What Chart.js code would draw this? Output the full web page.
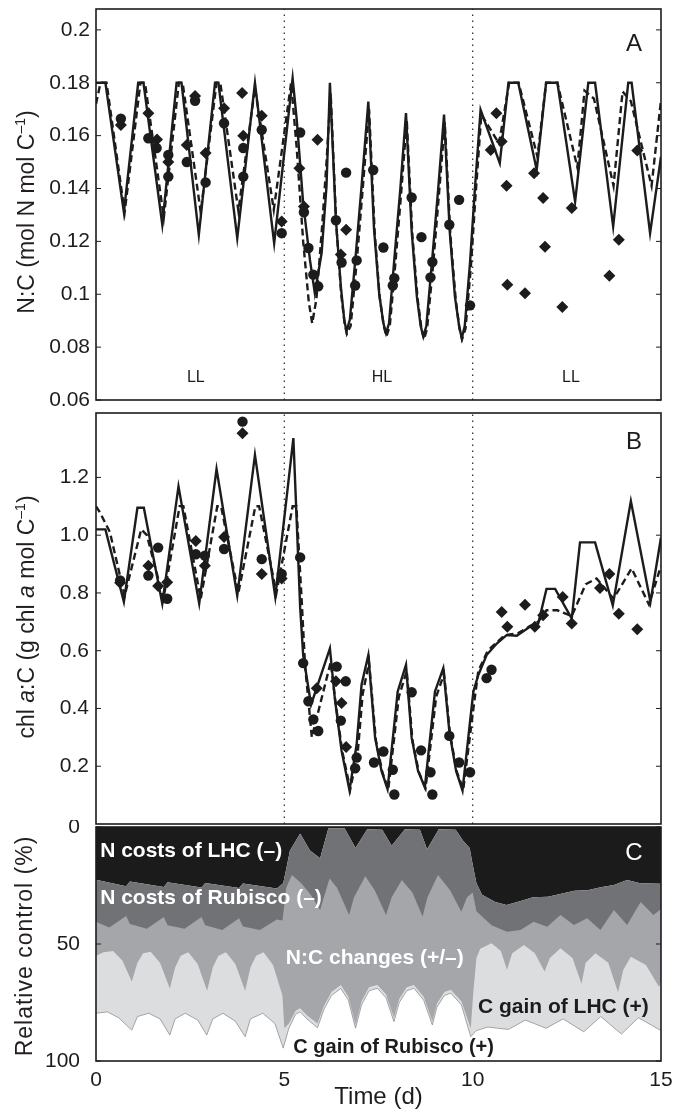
<!DOCTYPE html>
<html lang="en">
<head>
<meta charset="UTF-8" />
<title>N:C, chl a:C and relative control</title>
<script src="https://cdn.jsdelivr.net/npm/chart.js"></script>
<style>
  body { margin: 0; background: #fff; }
  #wrap { position: relative; width: 674px; height: 1115px; font-family: "Liberation Sans", Arial, sans-serif; color: #231f20; }
  #wrap canvas { position: absolute; left: 0; }
  .ytitle { position: absolute; white-space: nowrap; font-size: 23px; transform: translate(-50%, -50%) rotate(-90deg); }
  .ytitle sup { font-size: 14px; }
</style>
</head>
<body>
<div id="wrap">
  <canvas id="chartA" width="674" height="410" style="top:0"></canvas>
  <canvas id="chartB" width="674" height="425" style="top:405px"></canvas>
  <canvas id="chartC" width="674" height="295" style="top:820px"></canvas>
  <div class="ytitle" style="left:26px; top:212px">N:C (mol N mol C<sup>–1</sup>)</div>
  <div class="ytitle" style="left:26px; top:617px">chl <i>a</i>:C (g chl <i>a</i> mol C<sup>–1</sup>)</div>
  <div class="ytitle" style="left:24px; top:946px; letter-spacing:1px">Relative control (%)</div>
</div>

<script>
// ---- data ----
const phaseBounds = [5, 10];
const timeTicks = [0, 5, 10, 15];

// panel A: N:C
const ncTicks = [0.06, 0.08, 0.1, 0.12, 0.14, 0.16, 0.18, 0.2];
const ncModelT = [0, 0.25, 0.74, 1.12, 1.26, 1.76, 2.14, 2.27, 2.73, 3.16, 3.25, 3.75, 4.22, 4.73, 5.22,
  5.33, 5.50, 5.68, 5.81, 5.99, 6.12, 6.21, 6.37, 6.50, 6.59, 6.65, 6.74, 6.90, 7.05, 7.23,
  7.38, 7.52, 7.63, 7.70, 7.78, 7.93, 8.08, 8.23, 8.38, 8.52, 8.62, 8.69, 8.77, 8.93, 9.08, 9.24,
  9.39, 9.53, 9.64, 9.71, 9.79, 9.93, 10.06, 10.21, 10.72, 10.95, 11.21, 11.70, 11.95, 12.25,
  12.72, 13.07, 13.25, 13.73, 14.13, 14.22, 14.71, 15];
const ncModelV = [0.18, 0.18, 0.131, 0.18, 0.18, 0.1263, 0.18, 0.18, 0.1225, 0.18, 0.18, 0.1212, 0.18, 0.1193, 0.1817,
  0.166, 0.1345, 0.113, 0.1004, 0.1156, 0.141, 0.18, 0.128, 0.103, 0.0904, 0.086, 0.0904, 0.1156, 0.1408, 0.1729,
  0.125, 0.100, 0.089, 0.0853, 0.089, 0.115, 0.140, 0.1685, 0.124, 0.099, 0.088, 0.084, 0.088, 0.114, 0.139, 0.168,
  0.124, 0.099, 0.088, 0.0834, 0.088, 0.112, 0.140, 0.1698, 0.1496, 0.18, 0.18, 0.147, 0.18, 0.18,
  0.135, 0.18, 0.18, 0.1256, 0.18, 0.18, 0.1231, 0.152];
const ncAltT = [0, 0.12, 0.28, 0.76, 1.18, 1.30, 1.80, 2.20, 2.30, 2.78, 3.20, 3.30, 3.78, 4.22, 4.72, 5.18,
  5.33, 5.50, 5.65, 5.74, 5.85, 6.00, 6.12, 6.23, 6.38, 6.51, 6.60, 6.66, 6.76, 6.92, 7.07, 7.25,
  7.40, 7.53, 7.64, 7.71, 7.80, 7.95, 8.10, 8.25, 8.40, 8.54, 8.64, 8.71, 8.79, 8.95, 9.10, 9.26,
  9.41, 9.55, 9.65, 9.72, 9.81, 9.95, 10.08, 10.23, 10.70, 10.97, 11.22, 11.72, 11.95, 12.25,
  12.78, 12.97, 13.22, 13.74, 13.98, 14.20, 14.75, 15];
const ncAltV = [0.172, 0.18, 0.18, 0.131, 0.18, 0.18, 0.129, 0.18, 0.18, 0.131, 0.18, 0.18, 0.1315, 0.178, 0.132, 0.18,
  0.155, 0.12, 0.097, 0.089, 0.098, 0.125, 0.15, 0.176, 0.126, 0.100, 0.089, 0.085, 0.088, 0.112, 0.138, 0.170,
  0.123, 0.099, 0.088, 0.084, 0.088, 0.112, 0.138, 0.166, 0.122, 0.098, 0.087, 0.083, 0.087, 0.111, 0.137, 0.165,
  0.122, 0.098, 0.087, 0.083, 0.087, 0.110, 0.138, 0.168, 0.157, 0.18, 0.18, 0.152, 0.18, 0.18,
  0.148, 0.177, 0.174, 0.141, 0.1767, 0.173, 0.141, 0.1735];
const ncCircleT = [0.66, 1.39, 1.61, 1.92, 1.92, 2.41, 2.63, 2.91, 3.40, 3.91, 3.91, 4.40, 4.93, 5.42, 5.52, 5.64, 5.77, 5.90,
  6.37, 6.52, 6.64, 6.88, 6.92, 7.36, 7.63, 7.88, 7.92, 8.38, 8.64, 8.88, 8.93, 9.38, 9.64, 9.93];
const ncCircleV = [0.1664, 0.159, 0.1553, 0.1527, 0.1445, 0.150, 0.1732, 0.1423, 0.1647, 0.1553, 0.1445, 0.1622, 0.1231, 0.1612, 0.131, 0.1175, 0.1074, 0.103,
  0.128, 0.112, 0.146, 0.1033, 0.1128, 0.147, 0.1177, 0.1033, 0.1061, 0.1366, 0.1216, 0.1064, 0.1122, 0.1263, 0.1357, 0.0958];
const ncDiamondT = [0.66, 1.39, 1.62, 1.92, 2.41, 2.63, 2.91, 3.40, 3.88, 3.91, 4.40, 4.93, 5.40, 5.52, 5.88, 6.50, 6.64,
  10.48, 10.63, 10.77, 10.90, 10.92, 11.39, 11.63, 11.87, 11.92, 12.38, 12.63, 13.63, 13.88, 14.37];
const ncDiamondV = [0.164, 0.1685, 0.1585, 0.150, 0.1565, 0.175, 0.1534, 0.1704, 0.1761, 0.160, 0.1675, 0.1275, 0.1477, 0.1332, 0.1584, 0.115, 0.1244,
  0.1546, 0.1685, 0.1578, 0.141, 0.1036, 0.1004, 0.1458, 0.1364, 0.118, 0.0952, 0.1326, 0.107, 0.1206, 0.1544];

// panel B: chl a:C
const chlTicks = [0.2, 0.4, 0.6, 0.8, 1.0, 1.2];
const chlModelT = [0, 0.25, 0.74, 1.10, 1.27, 1.76, 2.19, 2.74, 3.20, 3.75, 4.22, 4.76, 5.24, 5.42, 5.50, 5.71,
  6.21, 6.34, 6.52, 6.73, 6.92, 7.05, 7.23, 7.41, 7.58, 7.74, 8.01, 8.23, 8.38, 8.55, 8.73, 9.00, 9.22,
  9.38, 9.56, 9.73, 9.97, 10.02, 10.15, 10.37, 10.64, 10.90, 11.17, 11.52, 11.74, 11.96, 12.19, 12.63,
  12.85, 13.25, 13.72, 14.20, 14.72, 15];
const chlModelV = [1.02, 1.02, 0.769, 1.095, 1.095, 0.763, 1.169, 0.763, 1.229, 0.791, 1.278, 0.786, 1.336, 0.75, 0.585, 0.413,
  0.608, 0.436, 0.253, 0.116, 0.276, 0.482, 0.585, 0.299, 0.184, 0.121, 0.459, 0.551, 0.299, 0.184, 0.127, 0.459, 0.539,
  0.322, 0.184, 0.116, 0.402, 0.459, 0.516, 0.585, 0.625, 0.654, 0.652, 0.683, 0.694, 0.814, 0.814, 0.711,
  0.975, 0.975, 0.757, 1.118, 0.769, 0.992];
const chlAltT = [0, 0.10, 0.37, 0.76, 1.20, 1.35, 1.79, 2.22, 2.32, 2.78, 3.22, 3.32, 3.78, 4.23, 4.33, 4.79, 5.22, 5.32,
  5.45, 5.55, 5.73, 6.23, 6.36, 6.54, 6.75, 6.95, 7.08, 7.25, 7.43, 7.60, 7.76, 8.04, 8.25, 8.40, 8.57, 8.75,
  9.03, 9.24, 9.40, 9.58, 9.75, 10.00, 10.15, 10.40, 10.85, 11.20, 11.52, 11.74, 11.96, 12.25, 12.63,
  13.00, 13.29, 13.74, 14.22, 14.68, 15];
const chlAltV = [1.10, 1.08, 1.01, 0.79, 1.02, 1.0, 0.78, 1.10, 1.10, 0.78, 1.10, 1.10, 0.80, 1.10, 1.10, 0.80, 1.10, 1.10,
  0.80, 0.55, 0.30, 0.56, 0.42, 0.25, 0.12, 0.25, 0.45, 0.56, 0.29, 0.18, 0.12, 0.44, 0.53, 0.29, 0.18, 0.125,
  0.44, 0.52, 0.31, 0.18, 0.12, 0.38, 0.53, 0.60, 0.654, 0.66, 0.685, 0.70, 0.74, 0.74, 0.72,
  0.83, 0.85, 0.78, 0.885, 0.76, 0.894];
const chlCircleT = [0.64, 1.39, 1.65, 1.89, 2.65, 2.89, 3.40, 3.89, 4.40, 4.93, 5.42, 5.50, 5.64, 5.77, 5.90,
  6.39, 6.50, 6.63, 6.88, 6.92, 7.38, 7.63, 7.88, 7.92, 8.38, 8.63, 8.88, 8.93, 9.38, 9.64, 9.93, 10.37, 10.50];
const chlCircleV = [0.843, 0.86, 0.957, 0.78, 0.934, 0.929, 0.952, 1.393, 0.917, 0.866, 0.923, 0.557, 0.425, 0.362, 0.322,
  0.545, 0.358, 0.494, 0.193, 0.23, 0.213, 0.251, 0.188, 0.102, 0.456, 0.255, 0.179, 0.102, 0.305, 0.213, 0.179, 0.505, 0.534];
const chlDiamondT = [0.64, 1.39, 1.65, 1.89, 2.65, 2.89, 3.40, 3.89, 4.40, 4.93, 5.86, 6.37, 6.52, 6.64,
  10.77, 10.92, 11.39, 11.65, 11.87, 12.39, 12.63, 13.38, 13.63, 13.88, 14.37];
const chlDiamondV = [0.835, 0.894, 0.824, 0.837, 0.98, 0.894, 0.994, 1.353, 0.866, 0.85, 0.47, 0.494, 0.419, 0.267,
  0.734, 0.683, 0.759, 0.683, 0.723, 0.786, 0.694, 0.817, 0.866, 0.728, 0.674];

// panel C: cumulative relative control (%), boundaries from top
const ctrlTicks = [0, 50, 100];
const lhcCostT = [0, 0.8, 0.9, 1.8, 1.9, 2.8, 2.9, 3.8, 3.9, 4.8, 4.97, 5.05, 5.15, 5.42, 5.68, 5.95, 6.17, 6.6, 6.89,
  7.2, 7.6, 7.85, 8.2, 8.6, 8.79, 9.1, 9.55, 9.75, 9.92, 10.0, 10.1, 10.25, 10.6, 10.9, 11.3, 11.6, 12.0, 12.35,
  12.7, 13.05, 13.4, 13.75, 14.1, 14.45, 15];
const lhcCostV = [22.5, 25.3, 23.3, 25.6, 23.6, 25.9, 23.9, 26.1, 24.1, 26.3, 24, 18, 10, 2.8, 10, 13.4, 0.5, 0.5, 9,
  1, 1.2, 8, 1, 1.2, 9.5, 1, 1.2, 6, 9, 16, 24, 29, 32, 33.3, 31.5, 30, 29.8, 28.5,
  27.2, 27, 25.8, 24.8, 22.6, 24, 24.3];
const rubiscoCostT = [0, 0.35, 0.8, 0.9, 1.35, 1.8, 1.9, 2.35, 2.8, 2.9, 3.35, 3.8, 3.9, 4.35, 4.8, 4.95, 5.05, 5.2,
  5.45, 5.7, 5.95, 6.05, 6.2, 6.4, 6.72, 6.85, 7.15, 7.4, 7.7, 7.85, 8.12, 8.4, 8.67, 8.8, 9.08, 9.4, 9.7, 9.85,
  10.0, 10.1, 10.5, 10.91, 11.27, 11.62, 11.98, 12.33, 12.69, 13.04, 13.39, 13.75, 14.1, 14.46, 14.8, 15];
const rubiscoCostV = [40.5, 43, 38, 41.5, 43.5, 38.5, 42, 43.5, 38.5, 42, 44, 39, 42.5, 44, 39.5, 40, 26, 20.5,
  24, 29, 35.5, 30, 22, 26, 37.6, 30, 21, 27, 37.6, 30, 22.6, 28, 38.3, 30, 20.5, 27, 36.2, 30,
  28, 36, 42, 44.8, 44, 40.5, 42.6, 37.6, 41.9, 39, 44, 35.5, 41.9, 32, 37.6, 35];
const ncChangeT = [0, 0.2, 0.45, 0.7, 0.95, 1.1, 1.25, 1.45, 1.7, 1.96, 2.1, 2.25, 2.45, 2.7, 2.95, 3.1, 3.25, 3.45,
  3.7, 3.96, 4.1, 4.25, 4.45, 4.7, 4.95, 5.0, 5.12, 5.3, 5.42, 5.6, 5.88, 6.05, 6.25, 6.5, 6.7, 6.89, 7.05, 7.25,
  7.47, 7.7, 7.91, 8.05, 8.25, 8.44, 8.7, 8.93, 9.05, 9.25, 9.42, 9.7, 9.95, 10.02, 10.1, 10.2, 10.5, 10.75,
  10.91, 11.05, 11.36, 11.65, 11.91, 12.05, 12.33, 12.65, 12.89, 13.0, 13.26, 13.6, 13.86, 14.0, 14.2, 14.6, 14.95, 15];
const ncChangeV = [55, 53.5, 53, 57, 66, 58, 54, 53.3, 58, 69, 60, 55, 53.5, 58.5, 70, 60, 55, 53.5,
  58.5, 70, 60, 55, 53.5, 59, 72, 86, 84, 78.5, 77.5, 80.5, 84, 76.5, 70.5, 67.5, 72.5, 84.5, 74.5, 68.5,
  67.5, 71.5, 81.5, 73.5, 68.5, 67.5, 72.5, 83, 75.5, 70.5, 69.5, 74.5, 86, 70, 56, 52, 49.7, 53,
  61, 54, 50.4, 54, 61.8, 56, 51.8, 56, 67, 58, 54, 58, 70.6, 61, 55.4, 59, 68.4, 66];
const lhcGainT = [0, 0.3, 0.6, 0.95, 1.1, 1.4, 1.7, 1.96, 2.1, 2.37, 2.7, 2.94, 3.1, 3.37, 3.7, 3.96, 4.1, 4.43,
  4.75, 4.97, 5.12, 5.3, 5.42, 5.6, 5.88, 6.05, 6.25, 6.5, 6.7, 6.89, 7.05, 7.25, 7.47, 7.7, 7.91, 8.05, 8.25,
  8.44, 8.7, 8.93, 9.05, 9.25, 9.42, 9.7, 9.95, 10.1, 10.4, 10.95, 11.4, 11.95, 12.4, 12.95, 13.4, 13.95, 14.4, 15];
const lhcGainV = [79.6, 79, 81.5, 86.8, 81, 79.6, 82, 88.9, 82, 79.6, 82.5, 88.9, 82, 79.6, 83, 89.6, 82, 79.6,
  84, 94.5, 86, 80, 79, 82, 85.8, 78, 72, 69, 74, 86, 76, 70, 68.9, 73, 83.2, 75, 70,
  68.9, 74, 84.6, 77, 72, 71, 76, 89.6, 87, 85.5, 86.5, 82.5, 86, 82, 87.5, 81, 88.5, 81.5, 87];

// ---- look ----
const ink = '#1d1c1d';
const family = '"Liberation Sans", Arial, sans-serif';
const grays = { lhcCost: '#1c1b1c', rubiscoCost: '#717275', ncChange: '#a5a6a9', lhcGain: '#dcdddf', rubiscoGain: '#ffffff' };

const pts = (t, v) => t.map((x, i) => ({ x: x, y: v[i] }));

// tick labels must not push the plot area around
function noPad(s) {
  s.paddingTop = 0; s.paddingBottom = 0; s.paddingLeft = 0; s.paddingRight = 0;
}

const framePlugin = {
  id: 'frame',
  afterDraw(chart) {
    const { ctx, chartArea: a, scales } = chart;
    ctx.save();
    ctx.strokeStyle = ink;
    ctx.lineWidth = 1;
    scales.y.ticks.forEach(t => {
      const py = scales.y.getPixelForValue(t.value);
      ctx.beginPath();
      ctx.moveTo(a.left, py); ctx.lineTo(a.left + 5, py);
      ctx.moveTo(a.right, py); ctx.lineTo(a.right - 5, py);
      ctx.stroke();
    });
    ctx.lineWidth = 1.6;
    ctx.strokeRect(a.left, a.top, a.right - a.left, a.bottom - a.top);
    ctx.restore();
  }
};

// text labels placed in data coordinates
function notes(items) {
  return {
    id: 'notes',
    afterDatasetsDraw(chart) {
      const { ctx, scales } = chart;
      items.forEach(n => {
        ctx.save();
        ctx.font = n.font;
        ctx.fillStyle = n.color || ink;
        ctx.textAlign = n.align || 'center';
        ctx.textBaseline = 'middle';
        ctx.fillText(n.text, scales.x.getPixelForValue(n.x), scales.y.getPixelForValue(n.y));
        ctx.restore();
      });
    }
  };
}

function yAxis(min, max, ticks, fmt, pad, reverse) {
  return {
    min: min, max: max, reverse: !!reverse,
    afterFit(s) { s.width = 96; noPad(s); },
    afterBuildTicks(s) { s.ticks = ticks.map(v => ({ value: v })); },
    grid: { display: false, drawTicks: false },
    border: { display: false },
    ticks: { font: { family: family, size: 21 }, color: ink, padding: pad, callback: fmt }
  };
}

function phaseLines(lo, hi) {
  return phaseBounds.map(b => ({
    data: [{ x: b, y: lo }, { x: b, y: hi }],
    borderColor: '#333', borderWidth: 1.3, borderDash: [1.5, 4.5], pointRadius: 0
  }));
}

function modelSets(t1, v1, t2, v2) {
  return [
    { data: pts(t1, v1), borderColor: ink, borderWidth: 2.4, pointRadius: 0, tension: 0 },
    { data: pts(t2, v2), borderColor: ink, borderWidth: 2.4, borderDash: [7, 4], pointRadius: 0, tension: 0 }
  ];
}

function markerSets(ct, cv, dt, dv) {
  return [
    { data: pts(ct, cv), showLine: false, pointStyle: 'circle', pointRadius: 5.2, pointBorderWidth: 0, pointBackgroundColor: ink },
    { data: pts(dt, dv), showLine: false, pointStyle: 'rectRot', pointRadius: 6, pointBorderWidth: 0, pointBackgroundColor: ink }
  ];
}

const hiddenX = { type: 'linear', min: 0, max: 15, display: false, afterFit: noPad };

const base = {
  responsive: false,
  animation: false,
  events: [],
  plugins: { legend: { display: false }, tooltip: { enabled: false } }
};

// panel A
new Chart(document.getElementById('chartA'), {
  type: 'line',
  data: { datasets: [...markerSets(ncCircleT, ncCircleV, ncDiamondT, ncDiamondV), ...modelSets(ncModelT, ncModelV, ncAltT, ncAltV), ...phaseLines(0.06, 0.2079)] },
  options: {
    ...base,
    layout: { padding: { left: 0, right: 13, top: 9, bottom: 10 } },
    scales: {
      x: hiddenX,
      y: yAxis(0.06, 0.2079, ncTicks, v => String(Number(v.toFixed(2))), 6)
    }
  },
  plugins: [framePlugin, notes([
    { text: 'A', x: 14.28, y: 0.1947, font: '24px ' + family },
    { text: 'LL', x: 2.65, y: 0.0684, font: '16px ' + family },
    { text: 'HL', x: 7.59, y: 0.0684, font: '16px ' + family },
    { text: 'LL', x: 12.61, y: 0.0684, font: '16px ' + family }
  ])]
});

// panel B
new Chart(document.getElementById('chartB'), {
  type: 'line',
  data: { datasets: [...markerSets(chlCircleT, chlCircleV, chlDiamondT, chlDiamondV), ...modelSets(chlModelT, chlModelV, chlAltT, chlAltV), ...phaseLines(0, 1.423)] },
  options: {
    ...base,
    layout: { padding: { left: 0, right: 13, top: 8, bottom: 3 } },
    scales: {
      x: hiddenX,
      y: yAxis(0, 1.423, chlTicks, v => v.toFixed(1), 7)
    }
  },
  plugins: [framePlugin, notes([
    { text: 'B', x: 14.28, y: 1.323, font: '24px ' + family }
  ])]
});

// panel C: layers painted from the bottom edge (100 %) upwards, black from the top
const layer = (t, v, color, fillTo, extra) => Object.assign({
  data: pts(t, v), borderWidth: 0, pointRadius: 0, tension: 0,
  backgroundColor: color, fill: { value: fillTo }
}, extra || {});

new Chart(document.getElementById('chartC'), {
  type: 'line',
  data: {
    datasets: [
      layer(lhcGainT, lhcGainV, grays.rubiscoGain, 100, { borderWidth: 0.8, borderColor: '#8f9093' }),
      layer(ncChangeT, ncChangeV, grays.lhcGain, 100),
      layer(rubiscoCostT, rubiscoCostV, grays.ncChange, 100),
      layer(lhcCostT, lhcCostV, grays.rubiscoCost, 100),
      layer(lhcCostT, lhcCostV, grays.lhcCost, 0)
    ]
  },
  options: {
    ...base,
    layout: { padding: { left: 0, right: 13, top: 7, bottom: 0 } },
    scales: {
      x: {
        type: 'linear', min: 0, max: 15,
        afterFit(s) { s.height = 54; noPad(s); },
        afterBuildTicks(s) { s.ticks = timeTicks.map(v => ({ value: v })); },
        grid: { display: false, drawTicks: false },
        border: { display: false },
        ticks: { font: { family: family, size: 21 }, color: ink, padding: 7, maxRotation: 0 },
        title: { display: true, text: 'Time (d)', font: { family: family, size: 24 }, color: ink, padding: { top: 0, bottom: 3 } }
      },
      y: yAxis(0, 100, ctrlTicks, v => String(v), 16, true)
    }
  },
  plugins: [framePlugin, notes([
    { text: 'C', x: 14.28, y: 11.1, font: '24px ' + family, color: '#ffffff' },
    { text: 'N costs of LHC (–)', x: 0.11, y: 10.4, align: 'left', font: 'bold 21px ' + family, color: '#ffffff' },
    { text: 'N costs of Rubisco (–)', x: 0.11, y: 30.6, align: 'left', font: 'bold 21px ' + family, color: '#ffffff' },
    { text: 'N:C changes (+/–)', x: 5.04, y: 56.1, align: 'left', font: 'bold 21px ' + family, color: '#ffffff' },
    { text: 'C gain of LHC (+)', x: 10.14, y: 77.1, align: 'left', font: 'bold 21px ' + family, color: ink },
    { text: 'C gain of Rubisco (+)', x: 5.24, y: 94.4, align: 'left', font: 'bold 20px ' + family, color: ink }
  ])]
});
</script>
</body>
</html>
